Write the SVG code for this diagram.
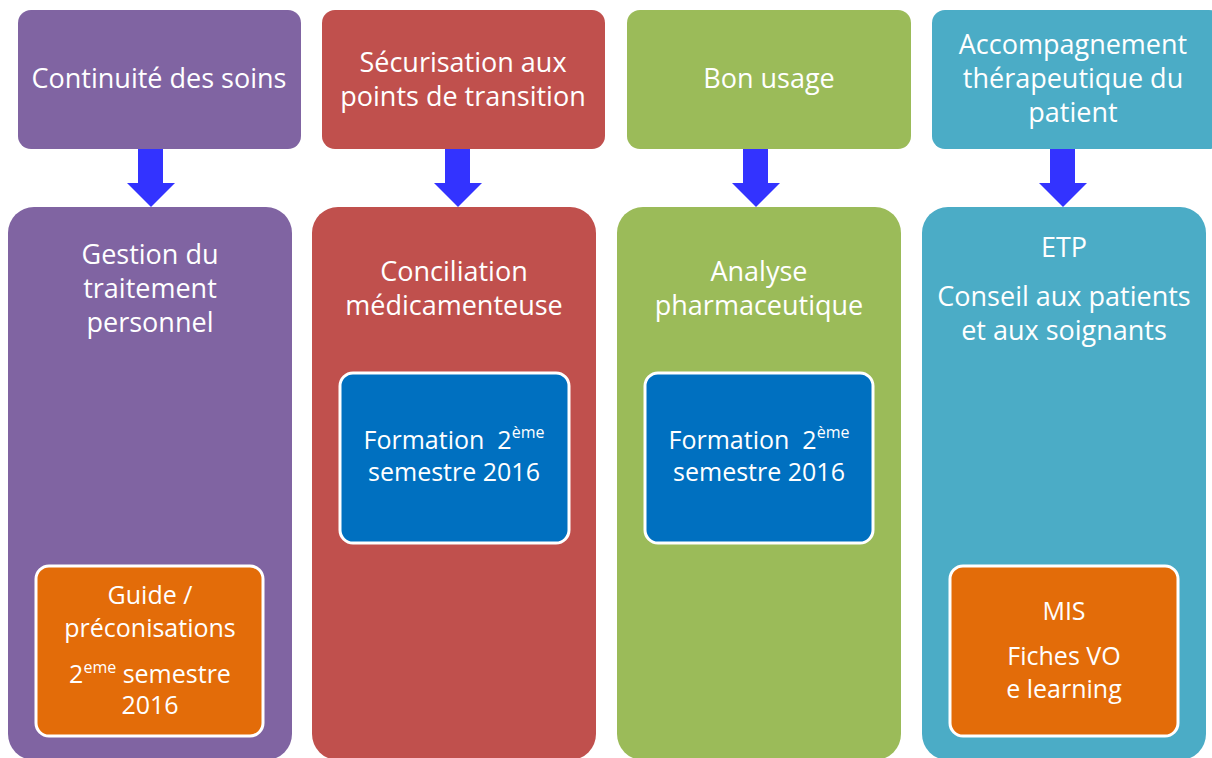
<svg xmlns="http://www.w3.org/2000/svg" width="1212" height="758" viewBox="0 0 1212 758">
<defs>
<style>
.t{font-family:"Open Sans","Liberation Sans",sans-serif;fill:#fff;text-anchor:middle;font-size:27px}
.s{font-family:"Open Sans","Liberation Sans",sans-serif;fill:#fff;text-anchor:middle;font-size:25px}
.sup{font-size:16px}
.inner{stroke:#fff;stroke-width:3}
.arr{fill:#3333FF}
</style>
</defs>
<rect width="1212" height="758" fill="#fff"/>
<g id="top1"><rect x="18" y="10" width="283" height="139" rx="13" fill="#8064A2"/><text class="t" x="159" y="88">Continuité des soins</text></g>
<g id="top2"><rect x="322" y="10" width="283" height="139" rx="13" fill="#C0504D"/><text class="t" x="463" y="72">Sécurisation aux</text><text class="t" x="463" y="106">points de transition</text></g>
<g id="top3"><rect x="627" y="10" width="284" height="139" rx="13" fill="#9BBB59"/><text class="t" x="769" y="88">Bon usage</text></g>
<g id="top4"><rect x="932" y="10" width="290" height="139" rx="13" fill="#4BACC6"/><text class="t" x="1073" y="54">Accompagnement</text><text class="t" x="1073" y="88">thérapeutique du</text><text class="t" x="1073" y="122">patient</text></g>
<g id="connectors">
<polygon class="arr" points="138,149 163,149 163,183 175,183 151,207 127,183 138,183"/>
<polygon class="arr" points="445,149 470,149 470,183 482,183 458,207 434,183 445,183"/>
<polygon class="arr" points="743,149 768,149 768,183 780,183 756,207 732,183 743,183"/>
<polygon class="arr" points="1050,149 1075,149 1075,183 1087,183 1063,207 1039,183 1050,183"/>
</g>
<g id="bot1"><rect x="8" y="207" width="284" height="553" rx="26" fill="#8064A2"/><text class="t" x="150" y="264">Gestion du</text><text class="t" x="150" y="298">traitement</text><text class="t" x="150" y="332">personnel</text></g>
<g id="bot2"><rect x="312" y="207" width="284" height="553" rx="26" fill="#C0504D"/><text class="t" x="454" y="281">Conciliation</text><text class="t" x="454" y="315">médicamenteuse</text></g>
<g id="bot3"><rect x="617" y="207" width="284" height="553" rx="26" fill="#9BBB59"/><text class="t" x="759" y="281">Analyse</text><text class="t" x="759" y="315">pharmaceutique</text></g>
<g id="bot4"><rect x="922" y="207" width="284" height="553" rx="26" fill="#4BACC6"/><text class="t" x="1064" y="257">ETP</text><text class="t" x="1064" y="306">Conseil aux patients</text><text class="t" x="1064" y="340">et aux soignants</text></g>
<g id="guide"><rect class="inner" x="36" y="566" width="227" height="170" rx="13" fill="#E36C09"/><text class="s" x="150" y="604">Guide /</text><text class="s" x="150" y="637">préconisations</text><text class="s" x="150" y="683">2<tspan class="sup" dy="-10">eme</tspan><tspan dy="10"> semestre</tspan></text><text class="s" x="150" y="714">2016</text></g>
<g id="form2"><rect class="inner" x="340" y="373" width="229" height="170" rx="13" fill="#0070C0"/><text class="s" x="454" y="449">Formation&#160; 2<tspan class="sup" dy="-11">ème</tspan></text><text class="s" x="454" y="481">semestre 2016</text></g>
<g id="form3"><rect class="inner" x="645" y="373" width="228" height="170" rx="13" fill="#0070C0"/><text class="s" x="759" y="449">Formation&#160; 2<tspan class="sup" dy="-11">ème</tspan></text><text class="s" x="759" y="481">semestre 2016</text></g>
<g id="mis"><rect class="inner" x="950" y="566" width="228" height="170" rx="13" fill="#E36C09"/><text class="s" x="1064" y="620">MIS</text><text class="s" x="1064" y="665">Fiches VO</text><text class="s" x="1064" y="698">e learning</text></g>
</svg>
